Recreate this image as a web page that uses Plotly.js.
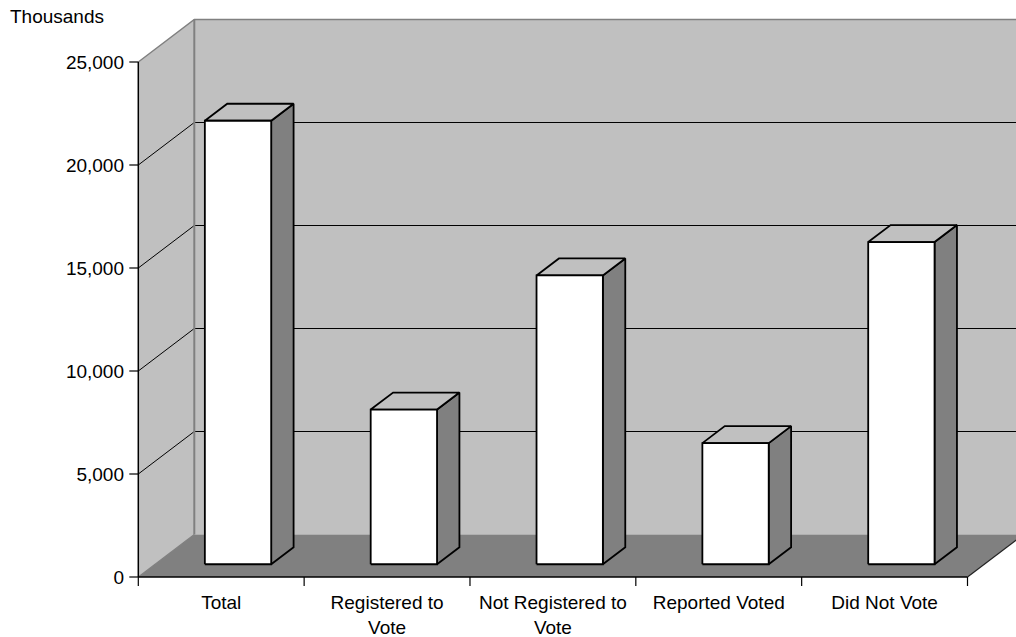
<!DOCTYPE html>
<html>
<head>
<meta charset="utf-8">
<script src="https://cdn.plot.ly/plotly-3.0.1.min.js"></script>
<style>html,body{margin:0;padding:0;background:#fff;}#chart{width:1016px;height:637px;}</style>
</head>
<body>
<div id="chart"></div>
<script>
// ---- data ----
const categories = ["Total", "Registered to<br>Vote", "Not Registered to<br>Vote", "Reported Voted", "Did Not Vote"];
const values = [21530, 7510, 14020, 5880, 15640];
const yTickValues = [0, 5000, 10000, 15000, 20000, 25000];

// ---- geometry (pixel targets) ----
const W = 1016, H = 637;
const PX0 = 138.3;      // pixel of x = -0.5 (front axis)
const UNIT = 165.84;    // pixels per category
const Y0 = 577;         // pixel of value 0 (front)
const YS = 515 / 25000; // pixels per value unit
const L = 127, R = 1016, T = 18, B = 589;
const xr = [-0.5 - (PX0 - L) / UNIT, -0.5 + (R - PX0) / UNIT];
const yr = [-(B - Y0) / YS, (Y0 - T) / YS];
const DX = 56 / UNIT;   // depth offset in x units
const DY = 42.5 / YS;   // depth offset in value units
const yMax = yTickValues[yTickValues.length - 1];
const nCat = categories.length;
const xLeft = -0.5, xRight = nCat - 0.5, xFar = xr[1] + 1;
const tickLenX = 9 / UNIT, tickLenY = 9 / YS;

const LIGHT = '#C0C0C0', DARK = '#808080';
const traces = [];
function poly(xs, ys, fill, lineColor, lw) {
  traces.push({
    type: 'scatter', mode: 'lines', x: xs.concat([xs[0]]), y: ys.concat([ys[0]]),
    fill: 'toself', fillcolor: fill,
    line: {color: lineColor || 'rgba(0,0,0,0)', width: lw || 0},
    hoverinfo: 'skip', showlegend: false
  });
}
function line(xs, ys, color, lw) {
  traces.push({
    type: 'scatter', mode: 'lines', x: xs, y: ys,
    line: {color: color, width: lw}, hoverinfo: 'skip', showlegend: false
  });
}

// walls
poly([xLeft, xLeft, xLeft + DX, xLeft + DX], [0, yMax, yMax + DY, DY], LIGHT);
poly([xLeft + DX, xFar, xFar, xLeft + DX], [DY, DY, yMax + DY, yMax + DY], LIGHT);
// floor
poly([xLeft, xRight, xRight + DX, xFar, xFar, xLeft + DX], [0, 0, DY, DY, DY, DY], DARK);

// back-wall gridlines
yTickValues.forEach(v => {
  if (v === 0) return;
  const c = (v === yMax) ? DARK : '#000';
  line([xLeft, xLeft + DX, xFar], [v, v + DY, v + DY], c, v === yMax ? 1.5 : 1);
});
// wall edges
line([xLeft + DX, xLeft + DX], [DY, yMax + DY], DARK, 2);
line([xLeft, xLeft + DX], [0, DY], DARK, 1.2);

// front axis + y ticks
line([xLeft, xLeft], [0, yMax], '#000', 1.5);
yTickValues.forEach(v => line([xLeft - tickLenX, xLeft], [v, v], '#000', 1.2));
// floor front edge + right diagonal
line([xLeft, xRight], [0, 0], '#000', 1.5);
line([xRight, xRight + DX], [0, DY], '#222', 1.2);
// x ticks at category boundaries
for (let k = 0; k <= nCat; k++) line([k - 0.5, k - 0.5], [0, -tickLenY], '#000', 1.2);

// bars (3D boxes)
const hw = 0.2, f = 0.3, b = 0.7;
values.forEach((v, i) => {
  const xl = i - hw, xh = i + hw;
  // side
  poly([xh + f * DX, xh + b * DX, xh + b * DX, xh + f * DX],
       [f * DY, b * DY, v + b * DY, v + f * DY], DARK, '#000', 1.8);
  // top
  poly([xl + f * DX, xh + f * DX, xh + b * DX, xl + b * DX],
       [v + f * DY, v + f * DY, v + b * DY, v + b * DY], LIGHT, '#000', 1.8);
  // front
  poly([xl + f * DX, xh + f * DX, xh + f * DX, xl + f * DX],
       [f * DY, f * DY, v + f * DY, v + f * DY], '#FFFFFF', '#000', 1.8);
});

const font = {family: '"Liberation Sans", Arial, sans-serif', size: 19, color: '#000'};
const layout = {
  width: W, height: H,
  margin: {l: L, r: W - R, t: T, b: H - B, pad: 0},
  paper_bgcolor: '#fff', plot_bgcolor: 'rgba(0,0,0,0)',
  font: font,
  showlegend: false,
  hovermode: false,
  xaxis: {
    range: xr, showgrid: false, zeroline: false, showline: false,
    tickmode: 'array', tickvals: categories.map((c, i) => i), ticktext: categories,
    ticks: '', tickfont: font, ticklabelstandoff: 0, fixedrange: true
  },
  yaxis: {
    range: yr, showgrid: false, zeroline: false, showline: false,
    tickmode: 'array', tickvals: yTickValues, tickformat: ',d',
    ticks: '', tickfont: font, ticklabelstandoff: 2, fixedrange: true
  },
  annotations: [{
    text: 'Thousands', xref: 'paper', yref: 'paper',
    x: (8 - L) / (R - L), y: 1 + (T - 16) / (B - T),
    xanchor: 'left', yanchor: 'middle', showarrow: false, font: font
  }]
};
Plotly.newPlot('chart', traces, layout, {displayModeBar: false, staticPlot: true});
</script>
</body>
</html>
